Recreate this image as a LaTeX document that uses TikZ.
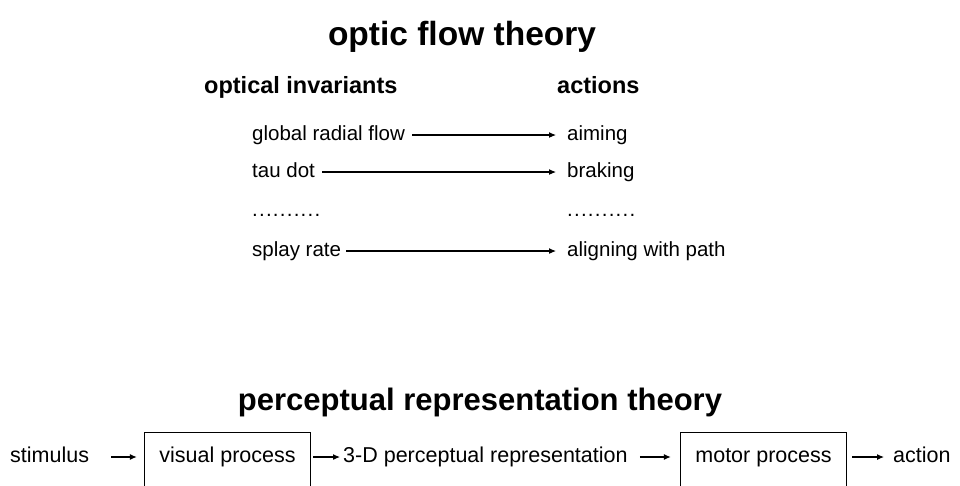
\documentclass[tikz,border=0pt]{standalone}
\usepackage{fontspec}
\setmainfont{Liberation Sans}
\usetikzlibrary{arrows.meta}
\begin{document}
\begin{tikzpicture}[x=1pt,y=-1pt,
  title/.style={font=\bfseries, inner sep=0pt, anchor=base},
  subhead/.style={font=\fontsize{23.5}{28}\selectfont\bfseries, inner sep=0pt, anchor=base west},
  item/.style={font=\fontsize{20.5}{24}\selectfont, inner sep=0pt, anchor=base west, text height=14pt, text depth=4pt},
  flow/.style={font=\fontsize{21.5}{26}\selectfont, inner sep=0pt, text height=15pt, text depth=4.5pt},
  procbox/.style={flow, minimum width=165pt},
  arr/.style={line width=1.1pt, -{Latex[length=7pt,width=6pt]}}
]
\useasboundingbox (0,0) rectangle (960,485);
\clip (0,0) rectangle (960,485);

% optic flow theory
\node[title, font=\fontsize{33.5}{38}\selectfont\bfseries] (t1) at (462,45) {optic flow theory};
\node[subhead] (h1) at (204,93) {optical invariants};
\node[subhead] (h2) at (557,93) {actions};

\node[item] (l1) at (252,140) {global radial flow};
\node[item] (l2) at (252,177) {tau dot};
\node[item] (l3) at (252,216) {\addfontfeatures{LetterSpace=6}..........};
\node[item] (l4) at (252,256) {splay rate};

\node[item] (r1) at (567,140) {aiming};
\node[item] (r2) at (567,177) {braking};
\node[item] (r3) at (567,216) {\addfontfeatures{LetterSpace=6}..........};
\node[item] (r4) at (567,256) {aligning with path};

\draw[arr, shorten <=7pt, shorten >=11pt] (l1.east) -- (r1.west);
\draw[arr, shorten <=7pt, shorten >=11pt] (l2.east) -- (r2.west);
\draw[arr, shorten <=5pt, shorten >=11pt] (l4.east) -- (r4.west);

% perceptual representation theory
\node[title, font=\fontsize{31}{36}\selectfont\bfseries] (t2) at (480,410) {perceptual representation theory};

\node[flow, anchor=west] (s) at (10,457) {stimulus};
\node[procbox] (vp) at (227.5,457) {visual process};
\node[flow, anchor=west] (p3) at (343,457) {3-D perceptual representation};
\node[procbox] (mp) at (763.5,457) {motor process};
\node[flow, anchor=west] (ac) at (893,457) {action};

\draw[line width=0.9pt] (vp.west |- 0,500) -- (vp.west |- 0,432) -- (vp.east |- 0,432) -- (vp.east |- 0,500);
\draw[line width=0.9pt] (mp.west |- 0,500) -- (mp.west |- 0,432) -- (mp.east |- 0,432) -- (mp.east |- 0,500);

\draw[arr, shorten <=22pt, shorten >=8pt] (s.east) -- (vp.west);
\draw[arr, shorten <=3pt, shorten >=3pt] (vp.east) -- (p3.west);
\draw[arr, shorten <=12pt, shorten >=10pt] (p3.east) -- (mp.west);
\draw[arr, shorten <=6pt, shorten >=9pt] (mp.east) -- (ac.west);
\end{tikzpicture}
\end{document}
